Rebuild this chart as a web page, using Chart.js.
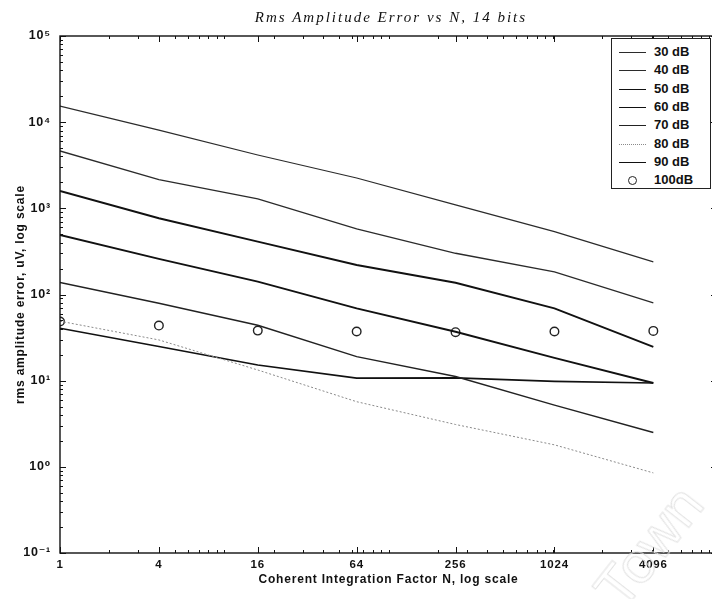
<!DOCTYPE html>
<html>
<head>
<meta charset="utf-8">
<script src="https://cdn.jsdelivr.net/npm/chart.js@4.4.1/dist/chart.umd.min.js"></script>
<style>
  html, body { margin: 0; padding: 0; background: #fff; overflow: hidden; }
  #wrap { position: relative; width: 712px; height: 599px; overflow: hidden; background: #fff; }
  #chart { position: absolute; left: 0; top: 0; }
  #title {
    position: absolute; top: 9px; left: 0; width: 782px; text-align: center;
    font: italic 15px "Liberation Serif", "DejaVu Serif", serif; letter-spacing: 2px; color: #111;
  }
  #legend {
    position: absolute; left: 611px; top: 38px; width: 98px; height: 149px;
    border: 1px solid #222; background: #fff;
    font: bold 13px "Liberation Sans", Arial, sans-serif; color: #111;
  }
  .row { position: absolute; left: 0; height: 18px; width: 98px; }
  .sample { position: absolute; left: 7px; top: 8px; width: 27px; height: 0; }
  .dot { position: absolute; left: 16px; top: 4px; width: 7px; height: 7px; border: 1.3px solid #222; border-radius: 50%; }
  .label { position: absolute; left: 42px; top: 0; }
  #mark {
    position: absolute; left: 633px; top: 553px; transform-origin: 0 100%;
    transform: rotate(-52deg); font: 58px "Liberation Sans", Arial, sans-serif;
    color: transparent; -webkit-text-stroke: 1px #e2e2e2; white-space: nowrap;
  }
</style>
</head>
<body>
<div id="wrap">
  <canvas id="chart" width="725" height="599"></canvas>
  <div id="title">Rms Amplitude Error vs N, 14 bits</div>
  <div id="legend"></div>
  <div id="mark">Town</div>
</div>
<script>
const integrationN = [1, 4, 16, 64, 256, 1024, 4096];
const xTickLabels = [1, 4, 16, 64, 256, 1024, 4096];
const yTickLabels = [0.1, 1, 10, 100, 1000, 10000, 100000];

const snr30 = [15400, 8100, 4160, 2250, 1095, 537, 239];
const snr40 = [4630, 2160, 1285, 577, 301, 183, 80];
const snr50 = [1590, 768, 411, 220, 137, 69, 24.7];
const snr60 = [491, 259, 141, 69, 37, 18.4, 9.4];
const snr70 = [138, 79, 44, 19, 11.2, 5.2, 2.5];
const snr80 = [49, 29.7, 13.3, 5.7, 3.1, 1.8, 0.85];
const snr90 = [40.6, 24.9, 15.2, 10.7, 10.8, 9.8, 9.4];
const snr100 = [48.6, 43.6, 38.1, 37.2, 36.5, 37.2, 37.8];

const seriesNames = ["30 dB", "40 dB", "50 dB", "60 dB", "70 dB", "80 dB", "90 dB", "100dB"];

const styles = [
  { color: "#2b2b2b", width: 1.2, dash: [] },
  { color: "#2b2b2b", width: 1.3, dash: [] },
  { color: "#111111", width: 1.9, dash: [] },
  { color: "#111111", width: 1.9, dash: [] },
  { color: "#222222", width: 1.5, dash: [] },
  { color: "#8a8a8a", width: 1, dash: [2, 2] },
  { color: "#111111", width: 1.7, dash: [] },
];

const allSeries = [snr30, snr40, snr50, snr60, snr70, snr80, snr90];

const toPoints = (values) => integrationN.map((n, i) => ({ x: n, y: values[i] }));

const datasets = allSeries.map((values, i) => ({
  label: seriesNames[i],
  data: toPoints(values),
  showLine: true,
  borderColor: styles[i].color,
  borderWidth: styles[i].width,
  borderDash: styles[i].dash,
  pointRadius: 0,
  tension: 0,
}));

datasets.push({
  label: seriesNames[7],
  data: toPoints(snr100),
  showLine: false,
  pointStyle: "circle",
  pointRadius: 4.3,
  pointBorderWidth: 1.4,
  pointBorderColor: "#222",
  pointBackgroundColor: "rgba(0,0,0,0)",
});

const supers = { "-": "\u207B", "0": "\u2070", "1": "\u00B9", "2": "\u00B2", "3": "\u00B3", "4": "\u2074", "5": "\u2075" };
const powerLabel = (v) => "10" + String(Math.round(Math.log10(v))).split("").map((c) => supers[c]).join("");

// minor tick values k * 10^n between lo and hi
const minorValues = (lo, hi) => {
  const out = [];
  for (let d = lo; d < hi; d *= 10) {
    for (let k = 1; k <= 9; k++) out.push(k * d);
  }
  out.push(hi);
  return out;
};

// scanned text is spread out a little
const spacing = {
  id: "spacing",
  beforeDraw(chart) {
    chart.ctx.letterSpacing = "0.8px";
  },
};

const frameTicks = {
  id: "frameTicks",
  afterDatasetsDraw(chart) {
    const { ctx, chartArea: a, scales: { x, y } } = chart;
    ctx.save();
    ctx.strokeStyle = "#111";
    ctx.lineWidth = 1.4;
    ctx.strokeRect(a.left, a.top, a.right - a.left, a.bottom - a.top);
    ctx.lineWidth = 1;
    ctx.beginPath();
    minorValues(1, 10000).forEach((v) => {
      const px = Math.round(x.getPixelForValue(v)) + 0.5;
      ctx.moveTo(px, a.bottom); ctx.lineTo(px, a.bottom - 3);
      ctx.moveTo(px, a.top); ctx.lineTo(px, a.top + 3);
    });
    xTickLabels.forEach((v) => {
      const px = Math.round(x.getPixelForValue(v)) + 0.5;
      ctx.moveTo(px, a.bottom); ctx.lineTo(px, a.bottom - 6);
      ctx.moveTo(px, a.top); ctx.lineTo(px, a.top + 6);
    });
    minorValues(0.1, 100000).forEach((v) => {
      const py = Math.round(y.getPixelForValue(v)) + 0.5;
      ctx.moveTo(a.left, py); ctx.lineTo(a.left + 3, py);
      ctx.moveTo(a.right, py); ctx.lineTo(a.right - 3, py);
    });
    yTickLabels.forEach((v) => {
      const py = Math.round(y.getPixelForValue(v)) + 0.5;
      ctx.moveTo(a.left, py); ctx.lineTo(a.left + 6, py);
      ctx.moveTo(a.right, py); ctx.lineTo(a.right - 6, py);
    });
    ctx.stroke();
    ctx.restore();
  },
};

const fam = "'Liberation Sans', 'DejaVu Sans', Arial";
const axisFont = { family: fam, size: 12, weight: "bold" };

new Chart(document.getElementById("chart"), {
  type: "scatter",
  data: { datasets },
  options: {
    responsive: false,
    animation: false,
    layout: { padding: { top: 36, right: 8, left: 0, bottom: 0 } },
    plugins: { legend: { display: false }, tooltip: { enabled: false } },
    scales: {
      x: {
        type: "logarithmic",
        min: 1,
        max: 10000,
        afterBuildTicks: (scale) => {
          scale.ticks = xTickLabels.map((v) => ({ value: v }));
        },
        afterFit: (scale) => {
          scale.height = 46;
        },
        grid: { display: false, drawTicks: false },
        border: { display: false },
        ticks: {
          autoSkip: false,
          maxRotation: 0,
          padding: 5,
          color: "#111",
          font: { family: fam, size: 11.5, weight: "bold" },
          callback: (v) => String(v),
        },
        title: {
          display: true,
          text: "Coherent Integration Factor N, log scale",
          color: "#111",
          font: axisFont,
          padding: { top: 0, bottom: 12 },
        },
      },
      y: {
        type: "logarithmic",
        min: 0.1,
        max: 100000,
        afterBuildTicks: (scale) => {
          scale.ticks = yTickLabels.map((v) => ({ value: v }));
        },
        afterFit: (scale) => {
          scale.width = 60;
        },
        grid: { display: false, drawTicks: false },
        border: { display: false },
        ticks: {
          padding: 9,
          color: "#111",
          font: { family: fam, size: 12.5, weight: "bold" },
          callback: (v) => powerLabel(v),
        },
        title: {
          display: true,
          text: "rms amplitude error, uV, log scale",
          color: "#111",
          font: axisFont,
          padding: { top: 13, bottom: 0 },
        },
      },
    },
  },
  plugins: [spacing, frameTicks],
});

const legend = document.getElementById("legend");
seriesNames.forEach((name, i) => {
  const row = document.createElement("div");
  row.className = "row";
  row.style.top = (5 + i * 18.3) + "px";
  if (i < styles.length) {
    const s = styles[i];
    row.innerHTML = `<div class="sample" style="border-top:${s.width}px ${s.dash.length ? "dotted" : "solid"} ${s.color}"></div><span class="label">${name}</span>`;
  } else {
    row.innerHTML = `<div class="dot"></div><span class="label">${name}</span>`;
  }
  legend.appendChild(row);
});
</script>
</body>
</html>
